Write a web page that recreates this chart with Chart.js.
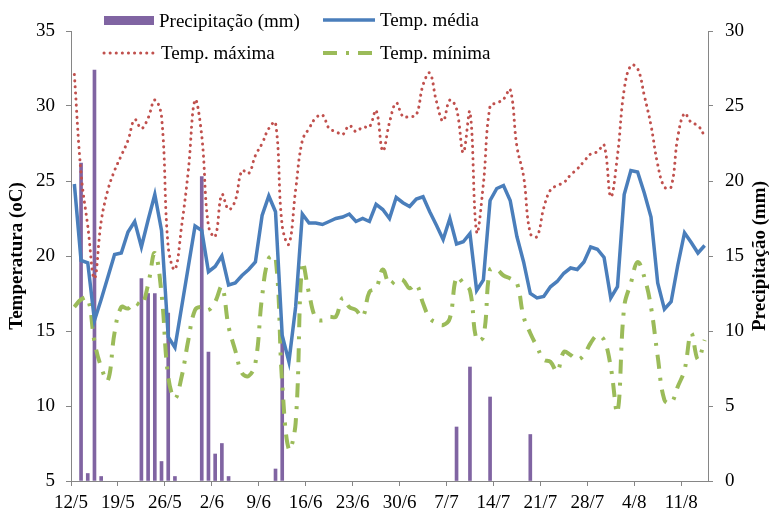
<!DOCTYPE html>
<html lang="pt">
<head>
<meta charset="utf-8">
<title>Temperatura e precipitação</title>
<script src="https://cdn.jsdelivr.net/npm/chart.js@4.4.0/dist/chart.umd.min.js"></script>
<style>
    html, body { margin: 0; padding: 0; background: #fff; }
    #wrap { width: 771px; height: 514px; position: relative; }
</style>
</head>
<body>
<div id="wrap"><canvas id="climaChart"></canvas></div>
<script>
/*
 * Dados diários de 12/5 a 14/8 (95 dias)
 * */
const tickLabels = ['12/5', '19/5', '26/5', '2/6', '9/6', '16/6', '23/6', '30/6', '7/7', '14/7', '21/7', '28/7', '4/8', '11/8'];

const tempMedia = [
    24.8, 19.7, 19.55, 15.7, 17.1, 18.6, 20.1, 20.2, 21.6, 22.3,
    20.6, 22.4, 24.1, 21.7, 14.6, 13.9, 16.6, 19.3, 22.0, 21.7,
    18.95, 19.3, 20.0, 18.07, 18.2, 18.7, 19.1, 19.6, 22.7, 24.0,
    22.95, 14.7, 12.95, 16.6, 22.8, 22.2, 22.2, 22.1, 22.3, 22.5,
    22.6, 22.8, 22.3, 22.5, 22.3, 23.45, 23.1, 22.5, 23.9, 23.55,
    23.3, 23.8, 23.95, 22.95, 22.05, 21.1, 22.5, 20.8, 20.95, 21.5,
    17.7, 18.4, 23.7, 24.5, 24.7, 23.7, 21.3, 19.6, 17.5, 17.2,
    17.3, 17.95, 18.3, 18.85, 19.2, 19.1, 19.6, 20.6, 20.45, 19.9,
    17.2, 17.95, 24.1, 25.7, 25.6, 24.2, 22.6, 18.2, 16.45, 16.95,
    19.4, 21.55, 20.9, 20.2, 20.7
];

const tempMaxima = [
    32.1, 25.5, 22.0, 18.5, 22.3, 24.4, 25.7, 26.7, 27.7, 29.1,
    28.5, 29.2, 30.4, 29.3, 20.6, 19.1, 22.0, 25.7, 30.4, 28.0,
    22.0, 21.3, 24.1, 23.1, 23.7, 25.7, 25.5, 26.7, 27.5, 28.5,
    28.9, 22.0, 20.8, 24.4, 27.7, 28.5, 29.2, 29.4, 28.5, 28.3,
    28.1, 28.7, 28.3, 28.6, 28.6, 29.7, 27.0, 28.9, 30.2, 29.3,
    29.3, 29.4, 31.4, 32.2, 30.3, 29.0, 30.4, 29.8, 26.9, 29.6,
    21.6, 24.8, 30.0, 30.2, 30.45, 31.1, 27.3, 25.3, 21.5, 21.3,
    23.2, 24.4, 24.7, 24.9, 25.4, 25.8, 26.3, 26.8, 26.95, 27.4,
    23.95, 26.7, 31.1, 32.7, 32.5, 30.7, 28.7, 26.1, 24.6, 24.6,
    27.95, 29.5, 28.9, 28.7, 28.0
];

const tempMinima = [
    16.6, 17.1, 17.2, 14.3, 12.6, 11.7, 14.9, 16.6, 16.5, 16.9,
    16.7, 18.1, 20.2, 17.5, 11.95, 10.5, 11.95, 14.4, 16.4, 16.6,
    16.4, 16.95, 17.95, 15.3, 13.7, 12.2, 12.0, 12.85, 17.3, 19.85,
    19.95, 11.5, 7.1, 8.85, 19.5, 17.5, 15.85, 15.7, 15.95, 15.95,
    17.2, 16.6, 16.4, 15.95, 17.6, 17.85, 19.1, 18.1, 18.4, 18.4,
    17.85, 18.1, 16.85, 15.85, 15.55, 15.4, 15.85, 18.6, 18.2, 17.7,
    14.4, 14.6, 19.1, 19.1, 18.7, 18.5, 18.2, 15.95, 14.85, 13.95,
    13.1, 12.95, 12.3, 13.6, 13.4, 13.1, 13.4, 14.2, 14.7, 14.4,
    12.6, 9.6, 16.6, 18.2, 19.6, 18.6, 16.6, 13.3, 10.4, 10.2,
    11.3, 12.4, 14.85, 13.1, 14.4
];

const precipitacao = [
    0, 21.2, 0.5, 27.4, 0.3, 0, 0, 0, 0, 0,
    13.5, 12.5, 12.5, 1.3, 11.2, 0.3, 0, 0, 0, 20.3,
    8.6, 1.8, 2.5, 0.3, 0, 0, 0, 0, 0, 0,
    0.8, 9.5, 0, 0, 0, 0, 0, 0, 0, 0,
    0, 0, 0, 0, 0, 0, 0, 0, 0, 0,
    0, 0, 0, 0, 0, 0, 0, 3.6, 0, 7.6,
    0, 0, 5.6, 0, 0, 0, 0, 0, 3.1, 0,
    0, 0, 0, 0, 0, 0, 0, 0, 0, 0,
    0, 0, 0, 0, 0, 0, 0, 0, 0, 0,
    0, 0, 0, 0, 0
];

const FONTE = '"Liberation Serif", "Times New Roman", serif';
const EIXO = '#868686';

/*
 * array de valores -> pontos {x: dia, y: valor}
 * dias sem chuva ficam de fora (null) para não desenhar barra vazia
 * */
const toPoints = function (values, skipZero) {
    return values.map((v, i) => ({ x: i, y: (skipZero && v === 0) ? null : v }));
};

/*
 * legenda dentro da área do gráfico + título do eixo direito (lido de baixo p/ cima)
 * */
const extrasPlugin = {
    id: 'extras',
    afterDraw(chart) {
        const ctx = chart.ctx;
        const ds = chart.data.datasets;
        const items = [
            { d: ds[0], x: 104, y: 21, type: 'box' },
            { d: ds[1], x: 323, y: 20, type: 'line' },
            { d: ds[2], x: 104, y: 53, type: 'line' },
            { d: ds[3], x: 323, y: 53, type: 'line' }
        ];
        ctx.save();
        items.forEach(it => {
            const w = it.type === 'box' ? 50 : 52;
            if (it.type === 'box') {
                ctx.fillStyle = it.d.backgroundColor;
                ctx.fillRect(it.x, it.y - 5, w, 9);
            } else {
                ctx.strokeStyle = it.d.borderColor;
                ctx.lineWidth = it.d.borderWidth;
                ctx.lineCap = it.d.borderCapStyle || 'butt';
                ctx.setLineDash(it.d.borderDash || []);
                ctx.beginPath();
                ctx.moveTo(it.x, it.y);
                ctx.lineTo(it.x + w, it.y);
                ctx.stroke();
                ctx.setLineDash([]);
            }
            ctx.fillStyle = '#000';
            ctx.font = '19px ' + FONTE;
            ctx.textBaseline = 'middle';
            ctx.textAlign = 'left';
            ctx.fillText(it.d.label, it.x + w + 5, it.y + 1);
        });

        // título do eixo secundário
        const area = chart.chartArea;
        ctx.translate(760, (area.top + area.bottom) / 2);
        ctx.rotate(-Math.PI / 2);
        ctx.font = 'bold 19px ' + FONTE;
        ctx.textAlign = 'center';
        ctx.textBaseline = 'middle';
        ctx.fillText('Precipitação (mm)', 0, 0);
        ctx.restore();
    }
};

document.addEventListener('DOMContentLoaded', function () {
    const ctx = document.getElementById('climaChart').getContext('2d');

    new Chart(ctx, {
        data: {
            datasets: [{
                type: 'bar',
                label: 'Precipitação (mm)',
                data: toPoints(precipitacao, true),
                yAxisID: 'y2',
                backgroundColor: '#8064A2',
                borderWidth: 0,
                barThickness: 3,
                order: 10
            }, {
                type: 'line',
                label: 'Temp. média',
                data: toPoints(tempMedia),
                yAxisID: 'y',
                borderColor: '#4A7EBB',
                borderWidth: 3.5,
                pointRadius: 0,
                tension: 0,
                order: 1
            }, {
                type: 'line',
                label: 'Temp. máxima',
                data: toPoints(tempMaxima),
                yAxisID: 'y',
                borderColor: '#C0504D',
                borderWidth: 3,
                borderDash: [0.1, 6],
                borderCapStyle: 'round',
                pointRadius: 0,
                tension: 0.4,
                order: 2
            }, {
                type: 'line',
                label: 'Temp. mínima',
                data: toPoints(tempMinima),
                yAxisID: 'y',
                borderColor: '#9BBB59',
                borderWidth: 4,
                borderDash: [14, 9, 3, 9],
                pointRadius: 0,
                tension: 0.4,
                order: 3
            }]
        },
        options: {
            responsive: true,
            maintainAspectRatio: false,
            animation: false,
            layout: { padding: { top: 31, left: 0, right: 0, bottom: 0 } },
            plugins: {
                legend: { display: false },
                tooltip: { enabled: false }
            },
            scales: {
                x: {
                    type: 'linear',
                    offset: false,
                    min: -0.5,
                    max: 94.5,
                    afterBuildTicks: function (scale) {
                        scale.ticks = tickLabels.map((t, k) => ({ value: -0.5 + 7 * k }));
                    },
                    afterFit: function (scale) { scale.height = 33; },
                    ticks: {
                        autoSkip: false,
                        maxRotation: 0,
                        padding: 6,
                        color: '#000',
                        font: { family: FONTE, size: 19 },
                        callback: (v, i) => tickLabels[i]
                    },
                    grid: { drawOnChartArea: false, offset: false, tickLength: 5, color: EIXO },
                    border: { color: EIXO }
                },
                y: {
                    position: 'left',
                    min: 5,
                    max: 35,
                    afterFit: function (scale) { scale.width = 71; },
                    ticks: {
                        stepSize: 5,
                        padding: 11,
                        color: '#000',
                        font: { family: FONTE, size: 19 }
                    },
                    grid: { drawOnChartArea: false, tickLength: 5, color: EIXO },
                    border: { color: EIXO },
                    title: {
                        display: true,
                        text: 'Temperatura (oC)',
                        color: '#000',
                        padding: { top: 6, bottom: 0 },
                        font: { family: FONTE, size: 19, weight: 'bold' }
                    }
                },
                y2: {
                    position: 'right',
                    min: 0,
                    max: 30,
                    afterFit: function (scale) { scale.width = 63; },
                    ticks: {
                        stepSize: 5,
                        padding: 12,
                        color: '#000',
                        font: { family: FONTE, size: 19 }
                    },
                    grid: { drawOnChartArea: false, tickLength: 5, color: EIXO },
                    border: { color: EIXO }
                }
            }
        },
        plugins: [extrasPlugin]
    });
});
</script>
</body>
</html>
